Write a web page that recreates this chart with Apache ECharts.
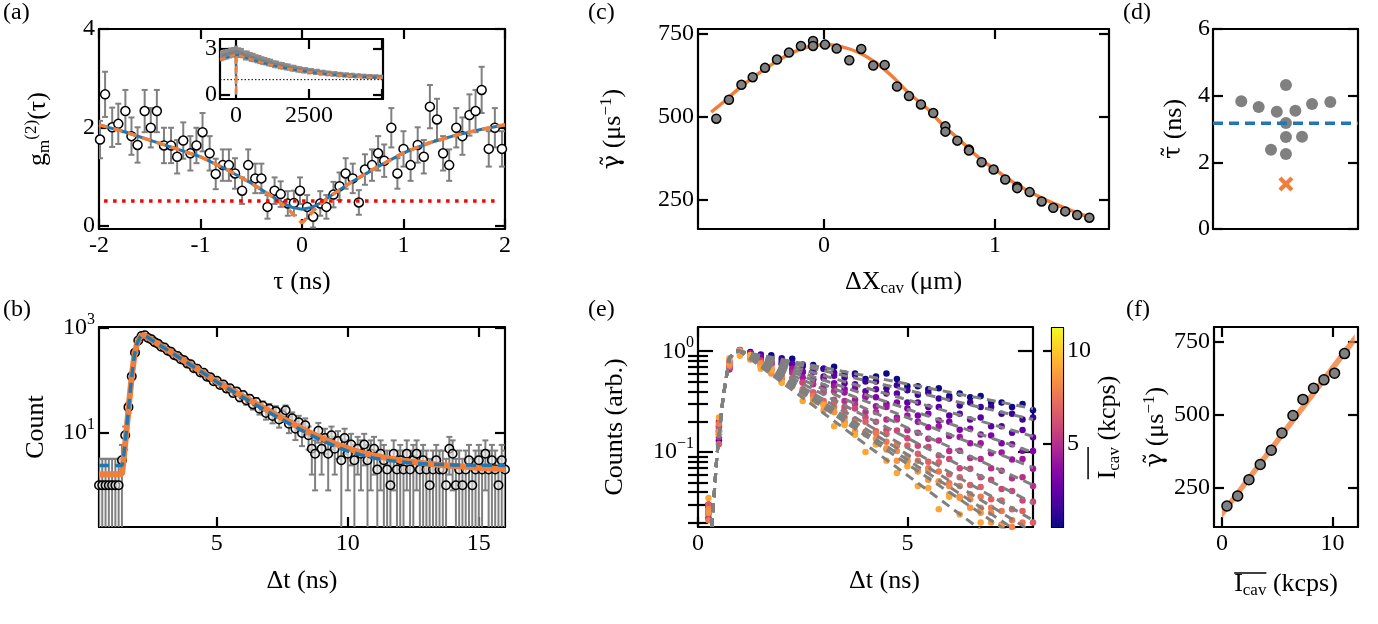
<!DOCTYPE html>
<html><head><meta charset="utf-8">
<script src="https://cdn.jsdelivr.net/npm/echarts@6/dist/echarts.min.js"></script>
<style>html,body{margin:0;padding:0;background:#fff}#c{width:1378px;height:624px}</style>
</head><body><div id="c"></div>
<script>
// ---------------- DATA ----------------
// (a) g2 correlation
const aX = [-1.99,-1.94,-1.87,-1.81,-1.74,-1.68,-1.62,-1.55,-1.49,-1.43,-1.36,-1.29,-1.23,-1.17,-1.10,-1.04,-0.98,-0.91,-0.85,-0.78,-0.72,-0.66,-0.59,-0.53,-0.46,-0.40,-0.34,-0.27,-0.21,-0.14,-0.08,-0.02,0.05,0.11,0.18,0.24,0.31,0.37,0.43,0.50,0.56,0.62,0.69,0.75,0.81,0.88,0.94,1.00,1.07,1.14,1.20,1.26,1.33,1.39,1.45,1.52,1.58,1.65,1.71,1.77,1.84,1.90,1.97];
const aY = [1.75,2.67,2.0,2.07,2.33,1.82,1.64,2.33,1.99,2.33,1.63,1.63,1.40,1.73,1.47,1.63,1.90,1.47,1.05,1.23,1.23,1.06,0.71,1.23,0.96,0.96,0.38,0.71,0.64,0.45,0.46,0.71,0.38,0.18,0.45,0.38,0.63,0.80,1.06,0.96,0.47,1.14,1.23,1.47,1.32,1.99,1.06,1.56,1.23,1.64,1.40,2.42,2.16,1.47,1.23,1.99,1.82,2.25,2.33,2.76,1.56,1.99,1.56];
const aErr = [0.38,0.46,0.40,0.41,0.43,0.38,0.36,0.43,0.40,0.43,0.36,0.36,0.34,0.37,0.35,0.36,0.39,0.35,0.31,0.32,0.32,0.31,0.27,0.32,0.30,0.30,0.24,0.27,0.26,0.25,0.25,0.27,0.24,0.22,0.25,0.24,0.26,0.28,0.31,0.30,0.25,0.31,0.32,0.35,0.33,0.40,0.31,0.36,0.32,0.36,0.34,0.44,0.42,0.35,0.32,0.40,0.38,0.42,0.43,0.47,0.36,0.40,0.36];
const aFitOrange = [[-2,2.05],[-1.75,1.91],[-1.5,1.74],[-1.25,1.57],[-1,1.4],[-0.75,1.15],[-0.5,0.86],[-0.3,0.6],[-0.15,0.36],[0,0.05],[0.15,0.38],[0.3,0.63],[0.5,0.9],[0.75,1.2],[1,1.48],[1.25,1.68],[1.5,1.83],[1.75,1.95],[2,2.05]];
const aFitBlue = [[-2,2.05],[-1.75,1.91],[-1.5,1.74],[-1.25,1.57],[-1,1.4],[-0.75,1.15],[-0.5,0.86],[-0.3,0.6],[-0.2,0.47],[-0.1,0.37],[0,0.33],[0.1,0.37],[0.2,0.48],[0.3,0.63],[0.5,0.9],[0.75,1.2],[1,1.48],[1.25,1.68],[1.5,1.83],[1.75,1.95],[2,2.05]];
const aThreshold = 0.5;
const aThresholdSpan = [-1.95, 1.95];
// (a) inset
const inStart = -500, inStep = 100;
const inY = [2.55,2.62,2.66,2.74,2.78,2.86,2.76,2.73,2.58,2.57,2.48,2.44,2.36,2.31,2.24,2.2,2.14,2.1,2.01,1.99,1.92,1.9,1.84,1.82,1.75,1.74,1.68,1.66,1.61,1.61,1.55,1.56,1.5,1.51,1.45,1.46,1.41,1.41,1.37,1.38,1.33,1.34,1.3,1.31,1.27,1.28,1.24,1.26,1.22,1.23,1.2,1.21,1.19,1.2,1.17,1.18];
const inErr = [0.35,0.36,0.35,0.36,0.35,0.36,0.35,0.34,0.33,0.33,0.32,0.31,0.3,0.3,0.29,0.28,0.28,0.27,0.26,0.26,0.25,0.25,0.24,0.24,0.23,0.23,0.22,0.22,0.21,0.21,0.21,0.2,0.2,0.2,0.19,0.19,0.19,0.18,0.18,0.18,0.18,0.17,0.17,0.17,0.17,0.17,0.16,0.16,0.16,0.16,0.16,0.16,0.15,0.15,0.15,0.15];
const inFit = [[-550,2.3],[-300,2.45],[-100,2.58],[-15,2.64],[0,0],[15,2.64],[100,2.58],[300,2.45],[600,2.27],[1000,2.05],[1500,1.82],[2000,1.64],[2500,1.5],[3000,1.38],[3500,1.29],[4000,1.22],[4500,1.16],[5030,1.11]];
const inBaseline = 1;
// (b) lifetime histogram
const bStart = 0.5, bStep = 0.125;
const bCounts = [1,1,1,1,1,1,1,3,9,31,120,340,580,705,730,650,610,540,505,440,425,370,352,305,292,255,243,210,205,172,168,142,140,118,116,97,99,82,84,70,71,58,62,48,53,42,45,35,39,29,33,24,29,21,26,18,22,27,15,19,12,16,10,14,9,5,4,11,5,8,4,9,5,7,3,8,4,6,3,5,4,6,3,4,5,2,4,3,2,1,4,2,3,2,4,2,3,4,2,3,2,1,2,3,2,2,1,5,4,1,2,1,2,3,1,2,3,2,4,2,3,2,1,3,2];
const bErr = [2.2,2.2,2.2,2.2,2.2,2.2,2.2,2.9,4.2,6.8,12.2,19.6,25.3,27.8,28.2,26.7,25.9,24.4,23.7,22.2,21.8,20.4,20,18.7,18.3,17.2,16.8,15.7,15.5,14.3,14.2,13.1,13,12.1,12,11,11.1,10.3,10.4,9.6,9.6,8.8,9.1,8.1,8.5,7.7,7.9,7.1,7.4,6.6,6.9,6.1,6.6,5.8,6.3,5.4,5.9,6.4,5.1,5.6,4.7,5.2,4.4,4.9,4.2,3.4,3.2,4.5,3.4,4.0,3.2,4.2,3.4,3.8,2.9,4.0,3.2,3.6,2.9,3.4,3.2,3.6,2.9,3.2,3.4,2.6,3.2,2.9,2.6,2.2,3.2,2.6,2.9,2.6,3.2,2.6,2.9,3.2,2.6,2.9,2.6,2.2,2.6,2.9,2.6,2.6,2.2,3.4,3.2,2.2,2.6,2.2,2.6,2.9,2.2,2.6,2.9,2.6,3.2,2.6,2.9,2.6,2.2,2.9,2.6];
const bFitOrange = [[0.5,1.6],[1.38,1.65],[1.45,3.5],[1.55,11],[1.65,38],[1.75,120],[1.85,300],[1.95,500],[2.05,650],[2.15,730],[2.25,725],[2.5,600],[3.0,415],[3.5,287],[4.0,198],[4.5,137],[5.0,94],[5.5,68],[6.0,50],[6.5,36],[7.0,26],[7.5,19],[8.0,14],[8.5,10.4],[9.0,8.0],[9.5,6.2],[10.0,5.1],[10.5,4.2],[11.0,3.7],[11.5,3.3],[12.0,3.0],[12.5,2.8],[13.0,2.6],[13.5,2.45],[14.0,2.35],[15.0,2.15],[16.0,2.04]];
const bFitBlue = [[0.5,2.4],[1.38,2.4],[1.45,4],[1.55,11.5],[1.65,38],[1.75,120],[1.85,300],[1.95,500],[2.05,650],[2.15,730],[2.25,725],[2.5,600],[3.0,415],[3.5,287],[4.0,198],[4.5,137],[5.0,94],[5.5,67],[6.0,48],[6.5,34],[7.0,24.5],[7.5,17.8],[8.0,13],[8.5,9.5],[9.0,7.2],[9.5,5.6],[10.0,4.5],[10.5,3.8],[11.0,3.3],[11.5,3.0],[12.0,2.8],[12.5,2.65],[13.0,2.55],[14.0,2.45],[15.0,2.42],[16.0,2.4]];
// (c) decay rate vs position
const cX = [-0.63,-0.556,-0.483,-0.417,-0.345,-0.275,-0.205,-0.135,-0.064,-0.064,0.006,0.074,0.148,0.218,0.288,0.355,0.427,0.497,0.567,0.639,0.71,0.71,0.78,0.848,0.848,0.922,0.992,1.06,1.13,1.13,1.203,1.273,1.341,1.411,1.481,1.552];
const cY = [495,552,597,620,648,673,694,714,729,714,718,706,671,705,655,657,592,563,538,512,472,456,429,402,399,364,342,312,290,286,274,246,227,216,205,197];
const cFitX = [-0.66,-0.6,-0.5,-0.4,-0.3,-0.2,-0.1,0,0.1,0.2,0.3,0.4,0.5,0.6,0.7,0.8,0.9,1.0,1.1,1.2,1.3,1.4,1.5,1.56];
const cFitY = [515,540,585,625,660,690,710,718,712,695,665,622,570,527,474,428,380,342,306,276,250,228,208,198];
// (d) lifetimes
const dX = [0.195,0.315,0.44,0.503,0.568,0.683,0.809,0.503,0.503,0.614,0.40,0.503];
const dY = [3.83,3.66,3.52,4.32,3.55,3.75,3.81,3.18,2.76,2.77,2.38,2.25];
const dCross = [0.503, 1.35];
const dMean = 3.17;
// (e) normalised decays, one series per intensity
const eStart = 0.25, eStep = 0.25;
const eIcav = [0.45,1.42,2.44,3.46,4.46,5.42,6.42,7.32,8.28,9.22,10.18,11.08];
const eS1 = [0.03,0.16,0.72,1.02,0.98,0.86,0.91,0.80,0.84,0.71,0.73,0.67,0.70,0.60,0.60,0.53,0.56,0.60,0.53,0.45,0.45,0.42,0.43,0.36,0.38,0.35,0.36,0.31,0.31,0.28,0.30,0.26];
const eS2 = [0.025,0.13,0.68,0.98,0.92,0.93,0.80,0.85,0.74,0.74,0.63,0.67,0.61,0.55,0.58,0.50,0.50,0.43,0.46,0.41,0.37,0.39,0.34,0.34,0.29,0.31,0.28,0.28,0.24,0.24,0.21,0.22];
const eS3 = [0.028,0.18,0.75,1.0,0.96,0.83,0.85,0.74,0.75,0.62,0.63,0.56,0.57,0.48,0.47,0.40,0.42,0.38,0.38,0.31,0.31,0.28,0.28,0.23,0.24,0.21,0.22,0.18,0.18,0.155,0.165,0.14];
const eS4 = [0.022,0.15,0.70,1.03,0.89,0.88,0.74,0.76,0.65,0.63,0.52,0.54,0.48,0.42,0.43,0.36,0.35,0.30,0.31,0.27,0.23,0.24,0.205,0.20,0.166,0.17,0.149,0.146,0.122,0.119,0.103,0.102];
const eS5 = [0.03,0.20,0.78,0.99,0.96,0.79,0.77,0.64,0.67,0.55,0.53,0.45,0.45,0.39,0.33,0.35,0.285,0.28,0.22,0.23,0.20,0.176,0.18,0.144,0.141,0.122,0.122,0.097,0.099,0.084,0.085,0.068];
const eS6 = [0.026,0.14,0.66,1.01,0.92,0.76,0.75,0.63,0.61,0.49,0.47,0.41,0.40,0.32,0.30,0.25,0.25,0.21,0.21,0.164,0.155,0.135,0.13,0.102,0.103,0.087,0.085,0.069,0.065,0.055,0.056,0.046];
const eS7 = [0.024,0.17,0.74,0.97,0.86,0.81,0.65,0.64,0.53,0.49,0.39,0.39,0.33,0.28,0.27,0.22,0.20,0.165,0.163,0.137,0.115,0.112,0.092,0.085,0.069,0.068,0.056,0.053,0.043,0.041,0.033,0.032];
const eS8 = [0.03,0.12,0.70,1.02,0.91,0.73,0.67,0.54,0.54,0.42,0.39,0.32,0.31,0.25,0.21,0.20,0.161,0.151,0.116,0.116,0.096,0.080,0.079,0.060,0.056,0.047,0.045,0.034,0.033,0.027,0.026,0.020];
const eS9 = [0.021,0.19,0.80,1.0,0.89,0.71,0.68,0.54,0.51,0.39,0.36,0.30,0.28,0.22,0.20,0.159,0.153,0.126,0.119,0.090,0.082,0.069,0.064,0.049,0.046,0.038,0.036,0.028,0.026,0.021,0.020,0.016];
const eS10 = [0.027,0.16,0.72,0.98,0.83,0.76,0.60,0.57,0.45,0.40,0.31,0.30,0.25,0.20,0.19,0.150,0.135,0.106,0.102,0.083,0.067,0.065,0.051,0.046,0.036,0.034,0.028,0.025,0.019,0.018,0.014,0.013];
const eS11 = [0.025,0.15,0.76,1.01,0.89,0.70,0.63,0.49,0.48,0.37,0.33,0.26,0.25,0.197,0.160,0.154,0.119,0.109,0.082,0.080,0.064,0.053,0.051,0.038,0.035,0.028,0.025,0.020,0.019,0.015,0.014,0.010];
const eS12 = [0.035,0.22,0.85,0.90,0.92,0.67,0.66,0.49,0.47,0.32,0.31,0.29,0.18,0.185,0.148,0.100,0.119,0.082,0.062,0.072,0.046,0.044,0.027,0.036,0.024,0.017,0.020,0.013,0.017,0.010,0.013,0.008];
const eSeries = [eS1,eS2,eS3,eS4,eS5,eS6,eS7,eS8,eS9,eS10,eS11,eS12];
const eRiseT = [0.33,0.45,0.6,0.75,0.9,1.0];
const eRiseV = [0.018,0.09,0.35,0.85,1.0,1.0];
const eFitEndT = 8;
const eFitEnd = [0.27,0.21,0.143,0.099,0.07,0.047,0.031,0.021,0.016,0.013,0.011,0.007];
const eMajorTicks = [0.1, 1];
const eMinorTicks = [0.02,0.03,0.04,0.05,0.06,0.07,0.08,0.09,0.2,0.3,0.4,0.5,0.6,0.7,0.8,0.9];
const cbRange = [0.54, 11.24];
const cbTicks = [5, 10];
// (f) rate vs intensity
const fX = [0.45,1.42,2.44,3.46,4.46,5.42,6.42,7.32,8.28,9.22,10.18,11.08];
const fY = [188,222,278,330,379,438,498,553,591,620,643,710];
const fBandX = [0, 12];
const fBandLo = [146, 744];
const fBandHi = [176, 776];

// ---------------- STYLE ----------------
const FONT = "'Liberation Serif','DejaVu Serif',serif";
const GFONT = "'DejaVu Serif',serif";
const ORANGE = '#ef7f3a', BLUE = '#1f77b4', GREY = '#808080';
const eColors = ['#0d0887','#3a049a','#5c01a6','#7e03a8','#9c179e','#b52f8c','#cc4778','#de5f65','#ec7853','#f3894a','#f89540','#fca636'];
const PLASMA = [[0,'#f0f921'],[0.1,'#fcce25'],[0.2,'#fca636'],[0.3,'#f2844b'],[0.4,'#e16462'],[0.5,'#cc4778'],[0.6,'#b12a90'],[0.7,'#8f0da4'],[0.8,'#6a00a8'],[0.9,'#41049d'],[1,'#0d0887']];
const TS = 24, NS = 26, SS = 17, LH = 30;
const TICKRICH = {n:{fontFamily:FONT,fontSize:TS,color:'#000',lineHeight:32}, sup:{fontFamily:FONT,fontSize:16,color:'#000',verticalAlign:'top'}};
const NAMERICH = {n:{fontFamily:FONT,fontSize:NS,color:'#000',lineHeight:LH}, g:{fontFamily:GFONT,fontSize:NS-2,color:'#000',lineHeight:LH},
  sub:{fontFamily:FONT,fontSize:SS,color:'#000',verticalAlign:'bottom'}, sup:{fontFamily:FONT,fontSize:SS,color:'#000',verticalAlign:'top'}};
const GAMMA = '{g|γ̃}{n| (μs}{sup|−1}{n|)}';
const ICAV = '{n|I}{sub|cav}{n| (kcps)}';
const logFmt = v => { const e = Math.round(Math.log10(v)); return '{n|10}{sup|' + (e < 0 ? '−' + (-e) : e) + '}'; };
const plainFmt = v => String(v);

const LW = 2.2;
const gridBoxes = [
  {left:99, top:29, width:406, height:200},
  {left:220, top:39, width:163, height:60, show:true, backgroundColor:'#fff', borderWidth:0},
  {left:99, top:327, width:406, height:200},
  {left:698, top:29, width:411, height:200},
  {left:1213, top:29, width:145, height:200},
  {left:698, top:327, width:335, height:200},
  {left:1214, top:327, width:144, height:200},
  {left:1052, top:328, width:11, height:199}
];
const grids = gridBoxes.map(g => Object.assign({outerBoundsMode:'none', containLabel:false}, g));

const X = [], Y = [];
function pair(arr, dim, gi, o) {
  const base = {gridIndex: gi, type: o.type || 'value', min: o.min, max: o.max, splitLine:{show:false},
    axisLine:{show:true, onZero:false, lineStyle:{color:'#000', width:LW}}};
  if (o.type === 'log') base.logBase = 10;
  const tick = () => ({show: !!o.ticks, inside:true, length: o.tickLen || 10, customValues: o.ticks || undefined, lineStyle:{color:'#000', width:LW}});
  const main = Object.assign({}, base, {
    position: dim === 'x' ? 'bottom' : 'left',
    axisTick: tick(),
    axisLabel: {show: !!o.labels, customValues: o.labels || undefined, formatter: o.fmt || plainFmt, color:'#000', fontFamily:FONT, fontSize:TS, margin: o.margin != null ? o.margin : 5, hideOverlap:false, showMinLabel:true, showMaxLabel:true, rich: TICKRICH},
  });
  if (o.name) {
    main.name = o.name; main.nameLocation = 'middle'; main.nameGap = o.nameGap;
    main.nameTextStyle = {fontFamily:FONT, fontSize:NS, color:'#000', rich: NAMERICH, padding: o.namePad || 0};
  }
  const mirror = Object.assign({}, base, {position: dim === 'x' ? 'top' : 'right', axisTick: tick(), axisLabel:{show:false}});
  arr.push(main, mirror);
}
// grid 0 (a)
pair(X,'x',0,{min:-2,max:2,ticks:[-2,-1,0,1,2],labels:[-2,-1,0,1,2],name:'{n|τ (ns)}',nameGap:38});
pair(Y,'y',0,{min:-0.07,max:4,ticks:[0,2,4],labels:[0,2,4],name:'{n|g}{sub|m}{sup|(2)}{n|(τ)}',nameGap:46,margin:4});
// grid 1 inset
pair(X,'x',1,{min:-550,max:5030,ticks:[0,2500,5000],labels:[0,2500],margin:5});
pair(Y,'y',1,{min:-0.26,max:3.65,ticks:[0,3],labels:[0,3],margin:3});
// grid 2 (b)
pair(X,'x',2,{min:0.5,max:16,ticks:[5,10,15],labels:[5,10,15],name:'{n|Δt (ns)}',nameGap:39});
pair(Y,'y',2,{type:'log',min:0.16,max:1050,ticks:[10,1000],labels:[10,1000],fmt:logFmt,name:'{n|Count}',nameGap:48,margin:4});
// grid 3 (c)
pair(X,'x',3,{min:-0.737,max:1.667,ticks:[0,1],labels:[0,1],name:'{n|ΔX}{sub|cav}{n| (μm)}',nameGap:38});
pair(Y,'y',3,{min:163,max:765,ticks:[250,500,750],labels:[250,500,750],name:GAMMA,nameGap:70,margin:4});
// grid 4 (d)
pair(X,'x',4,{min:0,max:1});
pair(Y,'y',4,{min:0,max:6,ticks:[0,2,4,6],labels:[0,2,4,6],name:'{g|τ̃}{n| (ns)}',nameGap:24,margin:3});
// grid 5 (e)
pair(X,'x',5,{min:0,max:8,ticks:[0,5],labels:[0,5],name:'{n|Δt (ns)}',nameGap:39,namePad:[0,0,0,38]});
pair(Y,'y',5,{type:'log',min:0.018,max:1.74,ticks:eMajorTicks,labels:eMajorTicks,fmt:logFmt,tickLen:15,name:'{n|Counts (arb.)}',nameGap:68,margin:4});
// grid 6 (f)
pair(X,'x',6,{min:-0.72,max:12.3,ticks:[0,10],labels:[0,10],name:ICAV,nameGap:42});
pair(Y,'y',6,{min:116,max:801,ticks:[250,500,750],labels:[250,500,750],name:GAMMA,nameGap:43,margin:4});
// grid 7 colorbar
const cbLine = {show:true, onZero:false, lineStyle:{color:'#000', width:LW}};
const CB_GAP = 21;
X.push({gridIndex:7,type:'value',min:0,max:1,position:'bottom',axisLine:cbLine,axisTick:{show:false},axisLabel:{show:false},splitLine:{show:false}});
X.push({gridIndex:7,type:'value',min:0,max:1,position:'top',axisLine:cbLine,axisTick:{show:false},axisLabel:{show:false},splitLine:{show:false}});
Y.push({gridIndex:7,type:'value',min:cbRange[0],max:cbRange[1],position:'left',axisLine:cbLine,splitLine:{show:false},
  axisTick:{show:true,inside:false,length:9,customValues:cbTicks,lineStyle:{color:'#000',width:LW}},axisLabel:{show:false}});
Y.push({gridIndex:7,type:'value',min:cbRange[0],max:cbRange[1],position:'right',axisLine:cbLine,splitLine:{show:false},
  axisTick:{show:false},axisLabel:{show:true,customValues:cbTicks,formatter:plainFmt,color:'#000',fontFamily:FONT,fontSize:TS,margin:4,hideOverlap:false},
  name:ICAV,nameLocation:'middle',nameGap:CB_GAP,nameTextStyle:{fontFamily:FONT,fontSize:NS,color:'#000',rich:NAMERICH}});
// (e) minor ticks (extra axes)
['left','right'].forEach(p => Y.push({gridIndex:5,type:'log',logBase:10,min:0.018,max:1.74,position:p,splitLine:{show:false},
  axisLine:{show:false},axisLabel:{show:false},axisTick:{show:true,inside:true,length:10,customValues:eMinorTicks,lineStyle:{color:'#000',width:LW}}}));

// ---------------- HELPERS ----------------
function errBar(color, lw, cap) {
  return (params, api) => {
    const x = api.value(0), lo = api.value(1), hi = api.value(2);
    const a = api.coord([x, hi]), b = api.coord([x, lo]);
    const ch = [{type:'line', shape:{x1:a[0], y1:a[1], x2:b[0], y2:b[1]}, style:{stroke:color, lineWidth:lw}}];
    if (cap) {
      ch.push({type:'line', shape:{x1:a[0]-cap, y1:a[1], x2:a[0]+cap, y2:a[1]}, style:{stroke:color, lineWidth:lw}});
      ch.push({type:'line', shape:{x1:b[0]-cap, y1:b[1], x2:b[0]+cap, y2:b[1]}, style:{stroke:color, lineWidth:lw}});
    }
    const cs = params.coordSys;
    return {type:'group', children: ch, clipPath:{type:'rect', shape:{x:cs.x, y:cs.y, width:cs.width, height:cs.height}}};
  };
}
const ax = g => ({xAxisIndex: 2*g, yAxisIndex: 2*g});
const S = [];
// (a)
S.push(Object.assign(ax(0), {type:'custom', renderItem: errBar(GREY, 2, 3), encode:{x:0,y:[1,2]}, z:2, silent:true,
  data: aX.map((x,i) => [x, aY[i]-aErr[i], aY[i]+aErr[i]])}));
S.push(Object.assign(ax(0), {type:'scatter', symbol:'circle', symbolSize:9, z:3, silent:true,
  itemStyle:{color:'#fff', borderColor:'#000', borderWidth:1.5, opacity:1}, data: aX.map((x,i) => [x, aY[i]])}));
S.push(Object.assign(ax(0), {type:'line', data:aFitBlue, showSymbol:false, z:4, lineStyle:{color:BLUE, width:3}}));
S.push(Object.assign(ax(0), {type:'line', data:aFitOrange, showSymbol:false, z:5, lineStyle:{color:ORANGE, width:3.5, type:[9,6]}}));
S.push(Object.assign(ax(0), {type:'line', data: aThresholdSpan.map(x => [x, aThreshold]), showSymbol:false, z:5, lineStyle:{color:'#ff0000', width:3.5, type:[3.5,5.5], cap:'butt'}}));
// inset
S.push(Object.assign(ax(1), {type:'custom', renderItem: errBar('#8c8c8c', 4, 0), encode:{x:0,y:[1,2]}, z:6, silent:true,
  data: inY.map((v,i) => [inStart + i*inStep, v-inErr[i], v+inErr[i]])}));
S.push(Object.assign(ax(1), {type:'line', data: inY.map((v,i) => [inStart + i*inStep, v]), showSymbol:false, z:7, lineStyle:{color:GREY, width:3}}));
S.push(Object.assign(ax(1), {type:'line', data: [[-550, inBaseline],[5030, inBaseline]], showSymbol:false, z:7, lineStyle:{color:'#000', width:1, type:[1.5,2]}}));
S.push(Object.assign(ax(1), {type:'line', data: inFit, showSymbol:false, z:8, lineStyle:{color:BLUE, width:2}}));
S.push(Object.assign(ax(1), {type:'line', data: inFit, showSymbol:false, z:9, lineStyle:{color:ORANGE, width:2.5, type:[6,4]}}));
// (b)
S.push(Object.assign(ax(2), {type:'custom', renderItem: errBar(GREY, 2, 3), encode:{x:0,y:[1,2]}, z:2, silent:true,
  data: bCounts.map((v,i) => [bStart + i*bStep, Math.max(v - bErr[i], 0.05), v + bErr[i]])}));
S.push(Object.assign(ax(2), {type:'scatter', symbol:'circle', symbolSize:8.5, z:3, silent:true,
  itemStyle:{color:'rgba(235,235,235,0.6)', borderColor:'#000', borderWidth:1.5, opacity:1}, data: bCounts.map((v,i) => [bStart + i*bStep, v])}));
S.push(Object.assign(ax(2), {type:'line', data:bFitOrange, showSymbol:false, z:4, lineStyle:{color:ORANGE, width:6}}));
S.push(Object.assign(ax(2), {type:'line', data:bFitBlue, showSymbol:false, z:5, lineStyle:{color:BLUE, width:3.5, type:[10,6]}}));
// (c)
S.push(Object.assign(ax(3), {type:'line', data: cFitX.map((x,i) => [x, cFitY[i]]), showSymbol:false, smooth:0.3, z:3, lineStyle:{color:ORANGE, width:3.5}}));
S.push(Object.assign(ax(3), {type:'scatter', symbol:'circle', symbolSize:9, z:4, silent:true,
  itemStyle:{color:GREY, borderColor:'#000', borderWidth:1.5, opacity:1}, data: cX.map((x,i) => [x, cY[i]])}));
// (d)
S.push(Object.assign(ax(4), {type:'scatter', symbol:'circle', symbolSize:12, z:3, silent:true, itemStyle:{color:GREY, opacity:1}, data: dX.map((x,i) => [x, dY[i]])}));
S.push(Object.assign(ax(4), {type:'scatter', symbol:'path://M0,2 L2,0 L5,3 L8,0 L10,2 L7,5 L10,8 L8,10 L5,7 L2,10 L0,8 L3,5 Z', symbolSize:15, z:3, silent:true, itemStyle:{color:ORANGE, opacity:1}, data:[dCross]}));
S.push(Object.assign(ax(4), {type:'line', data:[[0,dMean],[1,dMean]], showSymbol:false, z:4, lineStyle:{color:BLUE, width:3.5, type:[10,6]}}));
// (e)
eSeries.forEach((arr, k) => {
  S.push(Object.assign(ax(5), {type:'scatter', symbol:'circle', symbolSize:6.5, z:3, silent:true, itemStyle:{color:eColors[k], opacity:1},
    data: arr.map((v,i) => [eStart + i*eStep, v])}));
});
eFitEnd.forEach((end, k) => {
  S.push(Object.assign(ax(5), {type:'line', showSymbol:false, z:4, lineStyle:{color:GREY, width:3, type:[9,6]},
    data: eRiseT.map((t,i) => [t, eRiseV[i]]).concat([[eFitEndT, end]])}));
});
// colorbar
S.push({type:'custom', xAxisIndex:14, yAxisIndex:14, silent:true, z:2, data:[[0, cbRange[0]]], encode:{x:0,y:1},
  renderItem: (params, api) => {
    const p1 = api.coord([0, cbRange[1]]), p2 = api.coord([1, cbRange[0]]);
    return {type:'rect', shape:{x:p1[0], y:p1[1], width:p2[0]-p1[0], height:p2[1]-p1[1]},
      style:{fill: new echarts.graphic.LinearGradient(0,0,0,1, PLASMA.map(s => ({offset:s[0], color:s[1]})))}};
  }});
// (f)
S.push(Object.assign(ax(6), {type:'custom', silent:true, z:2, data:[[fBandX[0], fBandLo[0]]], encode:{x:0,y:1},
  renderItem: (params, api) => {
    const pts = [];
    fBandX.forEach((x,i) => pts.push(api.coord([x, fBandHi[i]])));
    for (let i = fBandX.length-1; i >= 0; i--) pts.push(api.coord([fBandX[i], fBandLo[i]]));
    return {type:'polygon', shape:{points:pts}, style:{fill:ORANGE, opacity:0.8}};
  }}));
S.push(Object.assign(ax(6), {type:'scatter', symbol:'circle', symbolSize:10, z:4, silent:true,
  itemStyle:{color:GREY, borderColor:'#000', borderWidth:1.5, opacity:1}, data: fX.map((x,i) => [x, fY[i]])}));

// ---- overlines for the I_cav labels (measured from the text itself) ----
const mctx = document.createElement('canvas').getContext('2d');
const tw = (t, size) => { mctx.font = size + 'px ' + FONT; return mctx.measureText(t).width; };
const wI = tw('I', NS), wCav = tw('cav', SS), wRest = tw(' (kcps)', NS);
const wAll = wI + wCav + wRest, wBar = wI + wCav;
const gF = gridBoxes[6], gC = gridBoxes[7];
const fNameCY = gF.top + gF.height + 42 + LH/2;
const fStart = gF.left + gF.width/2 - wAll/2;
const oy = fNameCY - 0.42*NS;
const cbCX = gC.left + gC.width + CB_GAP + LH/2;
const cbStart = gC.top + gC.height/2 + wAll/2;
const ox = cbCX - 0.42*NS;

const lbl = (t, x, y) => ({type:'text', left:x, top:y, style:{text:t, font:'24px ' + FONT, fill:'#000'}});
const graphic = [
  lbl('(a)', 3, 1), lbl('(b)', 3, 298), lbl('(c)', 588, 1), lbl('(d)', 1123, 1), lbl('(e)', 588, 298), lbl('(f)', 1126, 298),
  {type:'line', shape:{x1:fStart, y1:oy, x2:fStart + wBar, y2:oy}, style:{stroke:'#000', lineWidth:1.5}},
  {type:'line', shape:{x1:ox, y1:cbStart, x2:ox, y2:cbStart - wBar}, style:{stroke:'#000', lineWidth:1.5}}
];

const chart = echarts.init(document.getElementById('c'), null, {renderer:'canvas', width:1378, height:624});
chart.setOption({animation:false, backgroundColor:'#fff', grid:grids, xAxis:X, yAxis:Y, series:S, graphic:graphic});
</script></body></html>
